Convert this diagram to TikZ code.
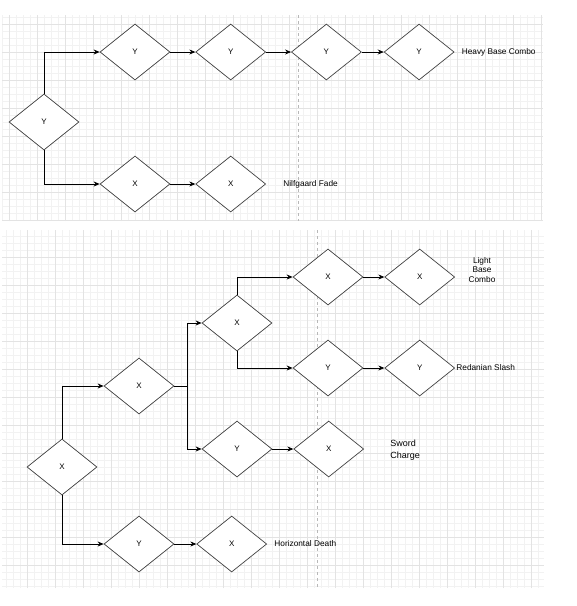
\documentclass[tikz,border=0pt]{standalone}
\usepackage{fontspec}
\setmainfont{Liberation Sans}
\usetikzlibrary{positioning, calc, shapes.geometric, arrows.meta}

\begin{document}
\begin{tikzpicture}[x=1pt, y=-1pt, line width=0.7pt, >={Stealth[length=6pt,width=5pt]}]
        % Define block styles
        \tikzstyle{decision} = [diamond, draw=black!75, fill=white, minimum width=70pt, minimum height=56pt, inner sep=0pt, font=\fontsize{8}{9}\selectfont]
        \tikzstyle{caption} = [inner sep=1pt, font=\fontsize{8.3}{9.8}\selectfont]
        \tikzstyle{minorgrid} = [draw=black!5, line width=0.5pt]
        \tikzstyle{majorgrid} = [draw=black!11, line width=0.6pt]
        \tikzstyle{pagebreak} = [draw=black!28, dashed, line width=0.5pt]

        \useasboundingbox (0,0) rectangle (577,606);

        % Background grids
        \begin{scope}[shift={(9,24)}]
            \draw[minorgrid, step=7pt] (-7,197) grid (534,-9);
            \draw[majorgrid, step=28pt] (-7,197) grid (534,-9);
        \end{scope}
        \begin{scope}[shift={(27,257)}]
            \draw[minorgrid, step=7pt] (-25,331) grid (517,-27);
            \draw[majorgrid, step=28pt] (-25,331) grid (517,-27);
        \end{scope}
        \draw[pagebreak] (298,15) -- (298,221);
        \draw[pagebreak] (317,230) -- (317,588);

        % Place nodes (heavy and fade)
        \node [decision] (heavyroot) at (44,122) {Y};
        \node [decision] (heavy1) at (135,52) {Y};
        \node [decision, right=25pt of heavy1] (heavy2) {Y};
        \node [decision, right=25pt of heavy2] (heavy3) {Y};
        \node [decision, right=22pt of heavy3] (heavy4) {Y};
        \node [caption, right=6pt of heavy4] (heavytext) {Heavy Base Combo};
        \node [decision] (fade1) at (135,184) {X};
        \node [decision, right=25pt of fade1] (fade2) {X};
        \node [caption, right=16pt of fade2] (fadetext) {Nilfgaard Fade};

        % Place nodes (light, slash, charge and death)
        \node [decision] (lightroot) at (62,467) {X};
        \node [decision] (light1) at (139,386) {X};
        \node [decision] (light2) at (237,323) {X};
        \node [decision] (light3) at (328,277) {X};
        \node [decision, right=21pt of light3] (light4) {X};
        \node [caption, align=center] (lighttext) at (482,270) {Light\\Base\\Combo};
        \node [decision] (slash1) at (328,368) {Y};
        \node [decision, right=21pt of slash1] (slash2) {Y};
        \node [caption, anchor=west] (slashtext) at (slash2.east) {Redanian Slash};
        \node [decision] (charge1) at (237,449) {Y};
        \node [decision, right=21pt of charge1] (charge2) {X};
        \node [caption, anchor=west, align=left, font=\fontsize{9}{12}\selectfont] (chargetext) at (389,450) {Sword\\Charge};
        \node [decision] (death1) at (139,544) {Y};
        \node [decision, right=22pt of death1] (death2) {X};
        \node [caption, right=6pt of death2] (deathtext) {Horizontal Death};
        \coordinate (fork) at (187,386);

        % Draw connections as arrows
        \draw [->] (heavyroot.north) |- (heavy1.west);
        \draw [->] (heavyroot.south) |- (fade1.west);
        \draw [->] (heavy1) -- (heavy2);
        \draw [->] (heavy2) -- (heavy3);
        \draw [->] (heavy3) -- (heavy4);
        \draw [->] (fade1) -- (fade2);

        \draw [->] (lightroot.north) |- (light1.west);
        \draw [->] (lightroot.south) |- (death1.west);
        \draw (light1.east) -- (fork);
        \draw [->] (fork) |- (light2.west);
        \draw [->] (fork) |- (charge1.west);
        \draw [->] (light2.north) |- (light3.west);
        \draw [->] (light2.south) |- (slash1.west);
        \draw [->] (light3) -- (light4);
        \draw [->] (slash1) -- (slash2);
        \draw [->] (charge1) -- (charge2);
        \draw [->] (death1) -- (death2);
    \end{tikzpicture}
\end{document}
